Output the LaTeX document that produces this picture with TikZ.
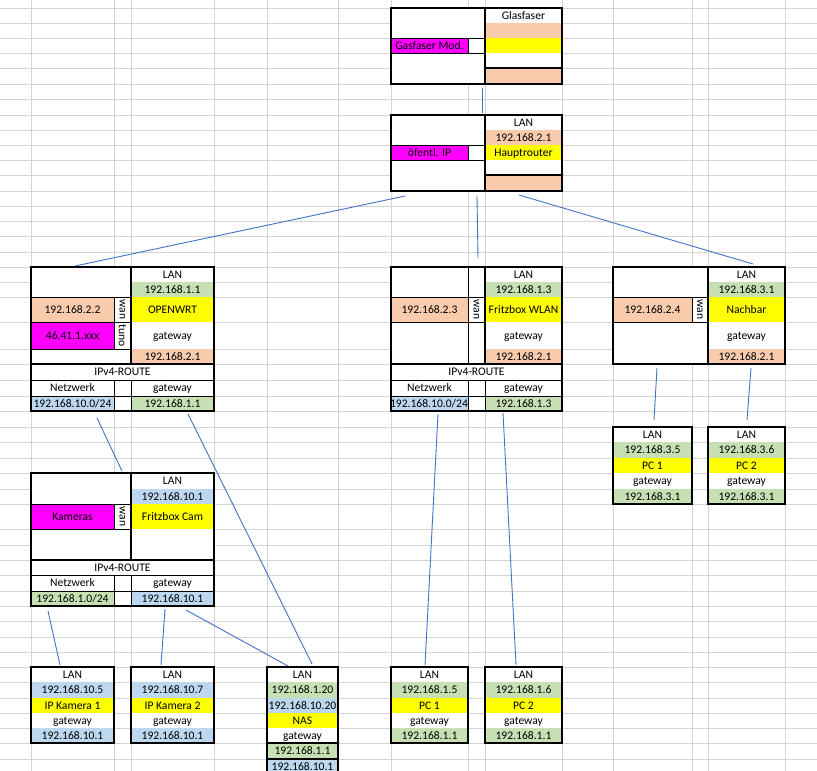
\documentclass[tikz,border=0pt]{standalone}
\usepackage{fontspec}
\setmainfont{Carlito}
\usetikzlibrary{backgrounds}

\definecolor{peach}{HTML}{F8CBAD}
\definecolor{leaf}{HTML}{C6E0B4}
\definecolor{sky}{HTML}{BDD7EE}
\definecolor{lemon}{HTML}{FFFF00}
\definecolor{magen}{HTML}{FF00FF}
\definecolor{gridc}{HTML}{D4D4D4}
\definecolor{wire}{HTML}{4472C4}

\newcommand\cellfont{\fontsize{11.6}{13}\selectfont}
% cell: name, x1, y1, x2, y2, fill style, text
\newcommand\cel[7]{%
  \fill[#6] (#2,#3) rectangle (#4,#5);
  \node[lbl] (#1) at ({(#2+#4)/2},{(#3+#5)/2+3.8}) {#7};}
% frame: name, x1, y1, x2, y2
\newcommand\frm[5]{%
  \begin{scope}[on background layer]\fill[white] (#2,#3) rectangle (#4,#5);\end{scope}
  \node[frame, minimum width={(#4-#2)*1pt}, minimum height={(#5-#3)*1pt}] (#1) at ({(#2+#4)/2},{(#3+#5)/2}) {};}

\begin{document}
\begin{tikzpicture}[
  x=1pt, y=-1pt,
  lbl/.style  ={font=\cellfont, anchor=base, inner sep=0pt},
  vlbl/.style ={font=\cellfont, anchor=center, inner sep=0pt, rotate=-90},
  frame/.style={draw=black, line width=2.2pt, inner sep=0pt, outer sep=0pt},
  hair/.style ={draw=black, line width=0.8pt},
  heavy/.style={draw=black, line width=2.2pt},
  gridln/.style={draw=gridc, line width=0.8pt},
  link/.style ={draw=wire, line width=0.9pt},
  pch/.style={fill=peach}, grn/.style={fill=leaf}, blu/.style={fill=sky},
  yel/.style={fill=lemon}, mag/.style={fill=magen}, wht/.style={fill=white},
]
\useasboundingbox (0,0) rectangle (817,771);

% ---------- sheet grid ----------
\begin{scope}[on background layer]
  \fill[white] (0,0) rectangle (817,771);
  \foreach \gx in {31,114,131,214,267,338,391,468,485,562,613,692,708,785}
    \draw[gridln] (\gx,0) -- (\gx,771);
  \foreach \gy in {8,23,38,53,68,84,99,115,130,145,160,175,191,206,221,236,252,267,282,297,322,349,364,380,396,411,427,442,458,473,489,504,529,545,560,575,591,606,621,637,652,667,682,698,713,728,743,759}
    \draw[gridln] (0,\gy) -- (817,\gy);
\end{scope}

% ---------- Glasfaser ----------
\cel{glas-t}{485}{8}{562}{23}{wht}{Glasfaser}
\fill[pch] (485,23) rectangle (562,38);
\cel{glas-mod}{391}{38}{468}{53}{mag}{Gasfaser Mod.}
\fill[yel] (485,38) rectangle (562,53);
\fill[pch] (485,68) rectangle (562,84);
\draw[hair] (391,38) rectangle (485,53) (468,38) -- (468,53);
\frm{glas}{391}{8}{562}{84}
\draw[heavy] (485,8) -- (485,84) (485,68) -- (562,68);

% ---------- Hauptrouter ----------
\cel{hr-lan}{485}{115}{562}{130}{wht}{LAN}
\cel{hr-ip}{485}{130}{562}{145}{pch}{192.168.2.1}
\cel{hr-pub}{391}{145}{468}{160}{mag}{öfentl. IP}
\cel{hr-name}{485}{145}{562}{160}{yel}{Hauptrouter}
\fill[pch] (485,175) rectangle (562,191);
\draw[hair] (391,145) rectangle (485,160) (468,145) -- (468,160);
\frm{hr}{391}{115}{562}{191}
\draw[heavy] (485,115) -- (485,191) (485,175) -- (562,175);

% ---------- OPENWRT ----------
\cel{owrt-lan}{131}{267}{214}{282}{wht}{LAN}
\cel{owrt-ip}{131}{282}{214}{297}{grn}{192.168.1.1}
\cel{owrt-wan}{31}{297}{114}{322}{pch}{192.168.2.2}
\node[vlbl] (owrt-w) at (122.5,309.5) {wan};
\cel{owrt-name}{131}{297}{214}{322}{yel}{OPENWRT}
\cel{owrt-pub}{31}{322}{114}{349}{mag}{46.41.1.xxx}
\node[vlbl] (owrt-t) at (122.5,335.5) {tuno};
\cel{owrt-gwl}{131}{322}{214}{349}{wht}{gateway}
\cel{owrt-gw}{131}{349}{214}{364}{pch}{192.168.2.1}
\cel{owrt-rt}{31}{364}{214}{380}{wht}{IPv4-ROUTE}
\cel{owrt-net}{31}{380}{114}{396}{wht}{Netzwerk}
\cel{owrt-rgw}{131}{380}{214}{396}{wht}{gateway}
\cel{owrt-dst}{31}{396}{114}{411}{blu}{192.168.10.0/24}
\cel{owrt-hop}{131}{396}{214}{411}{grn}{192.168.1.1}
\draw[hair] (31,297) -- (131,297) (31,322) -- (131,322) (31,349) -- (131,349) (114,297) -- (114,349)
  (31,380) -- (214,380) (31,396) -- (214,396) (114,380) -- (114,411) (131,380) -- (131,411);
\frm{owrt}{31}{267}{214}{411}
\draw[heavy] (31,364) -- (214,364) (131,267) -- (131,364);

% ---------- Fritzbox WLAN ----------
\cel{wlan-lan}{485}{267}{562}{282}{wht}{LAN}
\cel{wlan-ip}{485}{282}{562}{297}{grn}{192.168.1.3}
\cel{wlan-wan}{391}{297}{468}{322}{pch}{192.168.2.3}
\node[vlbl] (wlan-w) at (476.5,309.5) {wan};
\cel{wlan-name}{485}{297}{562}{322}{yel}{Fritzbox WLAN}
\cel{wlan-gwl}{485}{322}{562}{349}{wht}{gateway}
\cel{wlan-gw}{485}{349}{562}{364}{pch}{192.168.2.1}
\cel{wlan-rt}{391}{364}{562}{380}{wht}{IPv4-ROUTE}
\cel{wlan-net}{391}{380}{468}{396}{wht}{Netzwerk}
\cel{wlan-rgw}{485}{380}{562}{396}{wht}{gateway}
\cel{wlan-dst}{390}{396}{468}{411}{blu}{192.168.10.0/24}
\cel{wlan-hop}{485}{396}{562}{411}{grn}{192.168.1.3}
\draw[hair] (391,297) -- (485,297) (391,322) -- (485,322) (468,267) -- (468,364)
  (391,380) -- (562,380) (391,396) -- (562,396) (468,380) -- (468,411) (485,380) -- (485,411);
\frm{wlan}{391}{267}{562}{411}
\draw[heavy] (391,364) -- (562,364) (485,267) -- (485,364);

% ---------- Nachbar ----------
\cel{nach-lan}{708}{267}{785}{282}{wht}{LAN}
\cel{nach-ip}{708}{282}{785}{297}{grn}{192.168.3.1}
\cel{nach-wan}{613}{297}{692}{322}{pch}{192.168.2.4}
\node[vlbl] (nach-w) at (700,309.5) {wan};
\cel{nach-name}{708}{297}{785}{322}{yel}{Nachbar}
\cel{nach-gwl}{708}{322}{785}{349}{wht}{gateway}
\cel{nach-gw}{708}{349}{785}{364}{pch}{192.168.2.1}
\draw[hair] (613,297) -- (708,297) (613,322) -- (708,322) (692,297) -- (692,322);
\frm{nach}{613}{267}{785}{364}
\draw[heavy] (708,267) -- (708,364);

% ---------- Nachbar PCs ----------
\cel{npc1-lan}{613}{427}{692}{442}{wht}{LAN}
\cel{npc1-ip}{613}{442}{692}{458}{grn}{192.168.3.5}
\cel{npc1-name}{613}{458}{692}{473}{yel}{PC 1}
\cel{npc1-gwl}{613}{473}{692}{489}{wht}{gateway}
\cel{npc1-gw}{613}{489}{692}{504}{grn}{192.168.3.1}
\frm{npc1}{613}{427}{692}{504}
\cel{npc2-lan}{708}{427}{785}{442}{wht}{LAN}
\cel{npc2-ip}{708}{442}{785}{458}{grn}{192.168.3.6}
\cel{npc2-name}{708}{458}{785}{473}{yel}{PC 2}
\cel{npc2-gwl}{708}{473}{785}{489}{wht}{gateway}
\cel{npc2-gw}{708}{489}{785}{504}{grn}{192.168.3.1}
\frm{npc2}{708}{427}{785}{504}

% ---------- Fritzbox Cam ----------
\cel{cam-lan}{131}{473}{214}{489}{wht}{LAN}
\cel{cam-ip}{131}{489}{214}{504}{blu}{192.168.10.1}
\cel{cam-wan}{31}{504}{114}{529}{mag}{Kameras}
\node[vlbl] (cam-w) at (122.5,516.5) {wan};
\cel{cam-name}{131}{504}{214}{529}{yel}{Fritzbox Cam}
\cel{cam-rt}{31}{560}{214}{575}{wht}{IPv4-ROUTE}
\cel{cam-net}{31}{575}{114}{591}{wht}{Netzwerk}
\cel{cam-rgw}{131}{575}{214}{591}{wht}{gateway}
\cel{cam-dst}{31}{591}{114}{606}{grn}{192.168.1.0/24}
\cel{cam-hop}{131}{591}{214}{606}{blu}{192.168.10.1}
\draw[hair] (31,504) -- (131,504) (31,529) -- (131,529) (114,504) -- (114,529)
  (31,575) -- (214,575) (31,591) -- (214,591) (114,575) -- (114,606) (131,575) -- (131,606);
\frm{cam}{31}{473}{214}{606}
\draw[heavy] (31,560) -- (214,560) (131,473) -- (131,560);

% ---------- end devices ----------
\cel{ipk1-lan}{31}{667}{114}{682}{wht}{LAN}
\cel{ipk1-ip}{31}{682}{114}{698}{blu}{192.168.10.5}
\cel{ipk1-name}{31}{698}{114}{713}{yel}{IP Kamera 1}
\cel{ipk1-gwl}{31}{713}{114}{728}{wht}{gateway}
\cel{ipk1-gw}{31}{728}{114}{743}{blu}{192.168.10.1}
\frm{ipk1}{31}{667}{114}{743}

\cel{ipk2-lan}{131}{667}{214}{682}{wht}{LAN}
\cel{ipk2-ip}{131}{682}{214}{698}{blu}{192.168.10.7}
\cel{ipk2-name}{131}{698}{214}{713}{yel}{IP Kamera 2}
\cel{ipk2-gwl}{131}{713}{214}{728}{wht}{gateway}
\cel{ipk2-gw}{131}{728}{214}{743}{blu}{192.168.10.1}
\frm{ipk2}{131}{667}{214}{743}

\cel{nas-lan}{267}{667}{338}{682}{wht}{LAN}
\cel{nas-ip1}{267}{682}{338}{698}{grn}{192.168.1.20}
\cel{nas-ip2}{267}{698}{338}{713}{blu}{192.168.10.20}
\cel{nas-name}{267}{713}{338}{728}{yel}{NAS}
\cel{nas-gwl}{267}{728}{338}{743}{wht}{gateway}
\frm{nas}{267}{667}{338}{743}
\cel{nas-gw1}{267}{743}{338}{759}{grn}{192.168.1.1}
\frm{nas-b1}{267}{743}{338}{759}
\cel{nas-gw2}{267}{759}{338}{775}{blu}{192.168.10.1}
\frm{nas-b2}{267}{759}{338}{775}

\cel{pc1-lan}{391}{667}{468}{682}{wht}{LAN}
\cel{pc1-ip}{391}{682}{468}{698}{grn}{192.168.1.5}
\cel{pc1-name}{391}{698}{468}{713}{yel}{PC 1}
\cel{pc1-gwl}{391}{713}{468}{728}{wht}{gateway}
\cel{pc1-gw}{391}{728}{468}{743}{grn}{192.168.1.1}
\frm{pc1}{391}{667}{468}{743}

\cel{pc2-lan}{485}{667}{562}{682}{wht}{LAN}
\cel{pc2-ip}{485}{682}{562}{698}{grn}{192.168.1.6}
\cel{pc2-name}{485}{698}{562}{713}{yel}{PC 2}
\cel{pc2-gwl}{485}{713}{562}{728}{wht}{gateway}
\cel{pc2-gw}{485}{728}{562}{743}{grn}{192.168.1.1}
\frm{pc2}{485}{667}{562}{743}

% ---------- links ----------
\draw[link] ([xshift=91,yshift=-4]glas.south west) -- ([xshift=91,yshift=2]hr.north west);
\draw[link] ([xshift=14,yshift=-5]hr.south west) -- ([xshift=44,yshift=1]owrt.north west);
\draw[link] ([xshift=86,yshift=-5]hr.south west) -- ([xshift=87,yshift=9]wlan.north west);
\draw[link] ([xshift=128,yshift=-4]hr.south west) -- ([xshift=140,yshift=3]nach.north west);
\draw[link] ([xshift=66,yshift=-7]owrt.south west) -- ([xshift=91,yshift=2]cam.north west);
\draw[link] ([xshift=157,yshift=-3]owrt.south west) -- ([xshift=45,yshift=3]nas.north west);
\draw[link] ([xshift=47,yshift=-3]wlan.south west) -- ([xshift=34,yshift=2]pc1.north west);
\draw[link] ([xshift=112,yshift=-2]wlan.south west) -- ([xshift=31,yshift=2]pc2.north west);
\draw[link] ([xshift=44,yshift=-4]nach.south west) -- ([xshift=41,yshift=7]npc1.north west);
\draw[link] ([xshift=138,yshift=-4]nach.south west) -- ([xshift=39,yshift=7]npc2.north west);
\draw[link] ([xshift=17,yshift=-5]cam.south west) -- ([xshift=29,yshift=2]ipk1.north west);
\draw[link] ([xshift=134,yshift=-3]cam.south west) -- ([xshift=30,yshift=2]ipk2.north west);
\draw[link] ([xshift=155,yshift=-4]cam.south west) -- ([xshift=21,yshift=1]nas.north west);

\end{tikzpicture}
\end{document}
